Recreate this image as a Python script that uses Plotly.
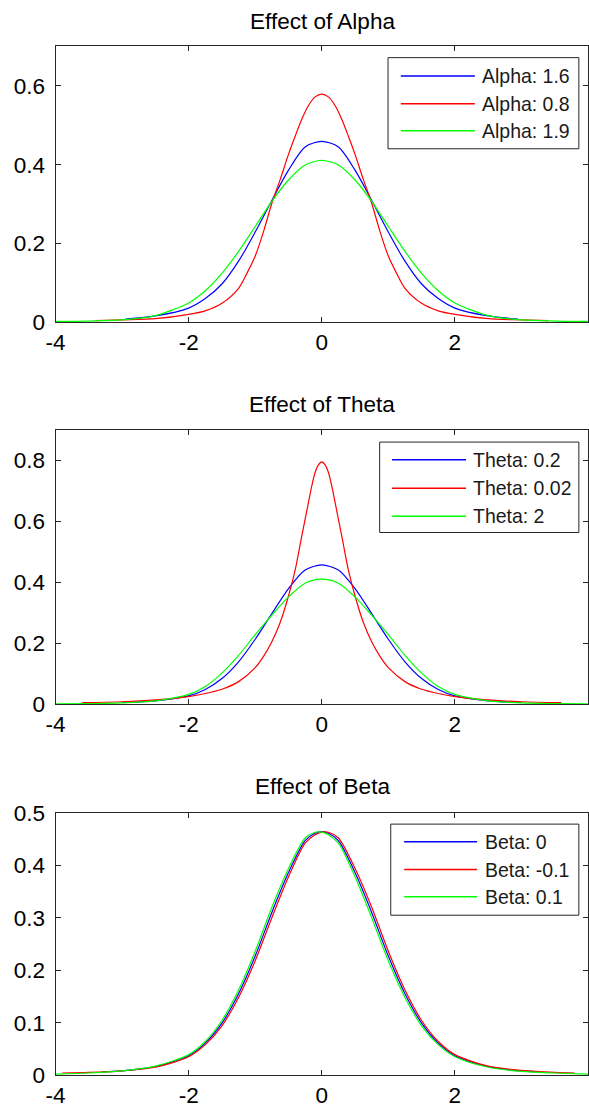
import plotly.graph_objects as go

# ---------------- data ----------------
# Panel 1: Effect of Alpha
alpha_labels = ["Alpha: 1.6", "Alpha: 0.8", "Alpha: 1.9"]
alpha_blue_x = [-2.95, -2.5, -2.0, -1.75, -1.5, -1.25, -1.0, -0.75, -0.5, -0.25, 0.0,
                0.25, 0.5, 0.75, 1.0, 1.25, 1.5, 1.75, 2.0, 2.5, 2.95]
alpha_blue_y = [0.008, 0.016, 0.036, 0.060, 0.097, 0.155, 0.229, 0.309, 0.386, 0.445, 0.459,
                0.445, 0.386, 0.309, 0.229, 0.155, 0.097, 0.060, 0.036, 0.016, 0.008]
alpha_red_x = [-3.4, -3.0, -2.5, -2.0, -1.75, -1.5, -1.25, -1.125, -1.0, -0.875, -0.75, -0.625,
               -0.5, -0.4, -0.3, -0.2, -0.1, 0.0, 0.1, 0.2, 0.3, 0.4, 0.5, 0.625, 0.75,
               0.875, 1.0, 1.125, 1.25, 1.5, 1.75, 2.0, 2.5, 3.0, 3.4]
alpha_red_y = [0.004, 0.006, 0.009, 0.020, 0.029, 0.048, 0.086, 0.124, 0.168, 0.230, 0.302, 0.362,
               0.426, 0.472, 0.515, 0.550, 0.572, 0.579, 0.572, 0.550, 0.515, 0.472, 0.426, 0.362, 0.302,
               0.230, 0.168, 0.124, 0.086, 0.048, 0.029, 0.020, 0.009, 0.006, 0.004]
alpha_green_x = [-4.0, -3.5, -3.0, -2.5, -2.0, -1.75, -1.5, -1.25, -1.0, -0.75, -0.5, -0.25, 0.0,
                 0.25, 0.5, 0.75, 1.0, 1.25, 1.5, 1.75, 2.0, 2.5, 3.0, 3.5, 4.0]
alpha_green_y = [0.002, 0.003, 0.006, 0.017, 0.049, 0.080, 0.124, 0.180, 0.243, 0.307, 0.361, 0.399, 0.411,
                 0.399, 0.361, 0.307, 0.243, 0.180, 0.124, 0.080, 0.049, 0.017, 0.006, 0.003, 0.002]

# Panel 2: Effect of Theta
theta_labels = ["Theta: 0.2", "Theta: 0.02", "Theta: 2"]
theta_blue_x = [-3.0, -2.5, -2.0, -1.75, -1.5, -1.25, -1.0, -0.75, -0.5, -0.25, 0.0,
                0.25, 0.5, 0.75, 1.0, 1.25, 1.5, 1.75, 2.0, 2.5, 3.0]
theta_blue_y = [0.006, 0.011, 0.027, 0.048, 0.084, 0.139, 0.213, 0.297, 0.379, 0.440, 0.457,
                0.440, 0.379, 0.297, 0.213, 0.139, 0.084, 0.048, 0.027, 0.011, 0.006]
theta_red_x = [-3.6, -3.0, -2.5, -2.0, -1.75, -1.5, -1.25, -1.0, -0.875, -0.75, -0.625, -0.5,
               -0.4, -0.3, -0.2, -0.15, -0.1, -0.05, 0.0, 0.05, 0.1, 0.15, 0.2, 0.3, 0.4, 0.5,
               0.625, 0.75, 0.875, 1.0, 1.25, 1.5, 1.75, 2.0, 2.5, 3.0, 3.6]
theta_red_y = [0.005, 0.008, 0.014, 0.025, 0.035, 0.049, 0.074, 0.120, 0.157, 0.205, 0.268, 0.355,
               0.440, 0.552, 0.662, 0.716, 0.760, 0.785, 0.795, 0.785, 0.760, 0.716, 0.662, 0.552, 0.440, 0.355,
               0.268, 0.205, 0.157, 0.120, 0.074, 0.049, 0.035, 0.025, 0.014, 0.008, 0.005]
theta_green_x = [-4.0, -3.5, -3.0, -2.5, -2.0, -1.75, -1.5, -1.25, -1.0, -0.75, -0.5, -0.25, 0.0,
                 0.25, 0.5, 0.75, 1.0, 1.25, 1.5, 1.75, 2.0, 2.5, 3.0, 3.5, 4.0]
theta_green_y = [0.001, 0.002, 0.004, 0.011, 0.032, 0.058, 0.102, 0.160, 0.228, 0.292, 0.352, 0.397, 0.410,
                 0.397, 0.352, 0.292, 0.228, 0.160, 0.102, 0.058, 0.032, 0.011, 0.004, 0.002, 0.001]

# Panel 3: Effect of Beta
beta_labels = ["Beta: 0", "Beta: -0.1", "Beta: 0.1"]
beta_blue_x = [-3.3, -3.0, -2.5, -2.0, -1.75, -1.5, -1.25, -1.0, -0.75, -0.5, -0.25, -0.1, 0.0,
               0.1, 0.25, 0.5, 0.75, 1.0, 1.25, 1.5, 1.75, 2.0, 2.5, 3.0, 3.3]
beta_blue_y = [0.006, 0.008, 0.016, 0.037, 0.061, 0.099, 0.155, 0.227, 0.310, 0.386, 0.447, 0.461, 0.464,
               0.461, 0.447, 0.386, 0.310, 0.227, 0.155, 0.099, 0.061, 0.037, 0.016, 0.008, 0.006]
beta_red_x = [-3.9, -3.5, -3.0, -2.5, -2.0, -1.75, -1.5, -1.25, -1.0, -0.75, -0.5, -0.25, -0.1, 0.0,
              0.1, 0.25, 0.5, 0.75, 1.0, 1.25, 1.5, 1.75, 2.0, 2.5, 3.0, 3.5, 3.8]
beta_red_y = [0.004, 0.005, 0.008, 0.015, 0.035, 0.058, 0.094, 0.148, 0.218, 0.300, 0.378, 0.442, 0.458, 0.463,
              0.463, 0.452, 0.394, 0.320, 0.236, 0.162, 0.104, 0.064, 0.039, 0.017, 0.009, 0.005, 0.004]
beta_green_x = [-4.0, -3.5, -3.0, -2.5, -2.0, -1.75, -1.5, -1.25, -1.0, -0.75, -0.5, -0.25, -0.1, 0.0,
                0.1, 0.25, 0.5, 0.75, 1.0, 1.25, 1.5, 1.75, 2.0, 2.5, 3.0, 3.5, 4.0]
beta_green_y = [0.002, 0.004, 0.008, 0.017, 0.039, 0.064, 0.104, 0.162, 0.236, 0.320, 0.394, 0.452, 0.463, 0.463,
                0.458, 0.442, 0.378, 0.300, 0.218, 0.148, 0.094, 0.058, 0.035, 0.015, 0.007, 0.004, 0.002]

titles = ["Effect of Alpha", "Effect of Theta", "Effect of Beta"]
x_tick_vals = [-4, -2, 0, 2, 4]
x_tick_text = ["-4", "-2", "0", "2", "4"]
y_tick_vals = [[0, 0.2, 0.4, 0.6], [0, 0.2, 0.4, 0.6, 0.8], [0, 0.1, 0.2, 0.3, 0.4, 0.5]]
y_tick_text = [["0", "0.2", "0.4", "0.6"], ["0", "0.2", "0.4", "0.6", "0.8"],
               ["0", "0.1", "0.2", "0.3", "0.4", "0.5"]]
y_ranges = [[0, 0.7], [0, 0.9], [0, 0.5]]

series = [
    [(alpha_blue_x, alpha_blue_y), (alpha_red_x, alpha_red_y), (alpha_green_x, alpha_green_y)],
    [(theta_blue_x, theta_blue_y), (theta_red_x, theta_red_y), (theta_green_x, theta_green_y)],
    [(beta_blue_x, beta_blue_y), (beta_red_x, beta_red_y), (beta_green_x, beta_green_y)],
]
labels = [alpha_labels, theta_labels, beta_labels]

# ---------------- styling / layout ----------------
W, H = 589, 1116
COLORS = ["#0000FF", "#FF0000", "#00FF00"]
AXC = "#262626"
FONT = "Liberation Sans, Arial, Helvetica, sans-serif"

# the photographed page appears inset/scaled; map target picture pixels to page pixels
PHOTO_DX, PHOTO_DY = 8.1, 11.1
PHOTO_SX, PHOTO_SY = 0.974, 0.9765
FSCALE = 1 / 0.975

def fx(px):
    return min(1.0, max(0.0, ((px - PHOTO_DX) / PHOTO_SX) / W))

def fy(py):
    return min(1.0, max(0.0, 1 - ((py - PHOTO_DY) / PHOTO_SY) / H))

AX_LEFT, AX_RIGHT = 53.3, 582.7
panels = [
    dict(top=45.5, bottom=321.0, title_y=20.7,
         box=(383.3, 56.7, 572.7, 147.7), line=(396.0, 469.5), text_x=475.5, rows=(75.0, 102.7, 129.8)),
    dict(top=428.5, bottom=702.5, title_y=403.3,
         box=(375.0, 440.7, 572.7, 531.0), line=(387.3, 460.7), text_x=466.5, rows=(458.3, 486.7, 514.8)),
    dict(top=811.0, bottom=1073.0, title_y=785.0,
         box=(386.0, 822.3, 572.7, 913.3), line=(399.3, 471.7), text_x=479.0, rows=(840.0, 867.7, 894.8)),
]

fig = go.Figure()
shapes = []
annotations = []

for i, p in enumerate(panels):
    n = "" if i == 0 else str(i + 1)
    xa, ya = "x" + n, "y" + n
    for k, (xs, ys) in enumerate(series[i]):
        fig.add_trace(go.Scatter(x=xs, y=ys, mode="lines", xaxis=xa, yaxis=ya,
                                 line=dict(color=COLORS[k], width=1.2, shape="spline", smoothing=0.8),
                                 showlegend=False, hoverinfo="skip"))
    common = dict(showline=True, linecolor=AXC, linewidth=1, mirror="ticks", ticks="inside",
                  ticklen=5, tickcolor=AXC, tickwidth=1, showgrid=False, zeroline=False,
                  tickfont=dict(family=FONT, size=22 * FSCALE, color="#000000"))
    fig.layout["xaxis" + n] = dict(domain=[fx(AX_LEFT), fx(AX_RIGHT)], range=[-4, 4],
                                   tickvals=x_tick_vals, ticktext=x_tick_text,
                                   anchor=ya, **common)
    fig.layout["yaxis" + n] = dict(domain=[fy(p["bottom"]), fy(p["top"])], range=y_ranges[i],
                                   tickvals=y_tick_vals[i], ticktext=y_tick_text[i],
                                   anchor=xa, ticklabelstandoff=5, **common)
    annotations.append(dict(text=titles[i], xref="paper", yref="paper",
                            x=fx((AX_LEFT + AX_RIGHT) / 2), y=fy(p["title_y"]),
                            xanchor="center", yanchor="middle", showarrow=False,
                            font=dict(family=FONT, size=22 * FSCALE, color="#000000")))
    bx0, by0, bx1, by1 = p["box"]
    shapes.append(dict(type="rect", xref="paper", yref="paper",
                       x0=fx(bx0), x1=fx(bx1), y0=fy(by1), y1=fy(by0),
                       line=dict(color=AXC, width=1), fillcolor="#FFFFFF", layer="above"))
    for k in range(3):
        ry = p["rows"][k]
        shapes.append(dict(type="line", xref="paper", yref="paper",
                           x0=fx(p["line"][0]), x1=fx(p["line"][1]), y0=fy(ry), y1=fy(ry),
                           line=dict(color=COLORS[k], width=1.5), layer="above"))
        annotations.append(dict(text=labels[i][k], xref="paper", yref="paper",
                                x=fx(p["text_x"]), y=fy(ry), xanchor="left", yanchor="middle",
                                showarrow=False, borderpad=0,
                                font=dict(family=FONT, size=19 * FSCALE, color="#1a1a1a")))

fig.update_layout(width=W, height=H, margin=dict(l=0, r=0, t=0, b=0),
                  paper_bgcolor="#FFFFFF", plot_bgcolor="#FFFFFF",
                  shapes=shapes, annotations=annotations, showlegend=False)

fig.write_html("out.html", config={"displayModeBar": False},
               post_script="document.body.style.margin='0px';")
